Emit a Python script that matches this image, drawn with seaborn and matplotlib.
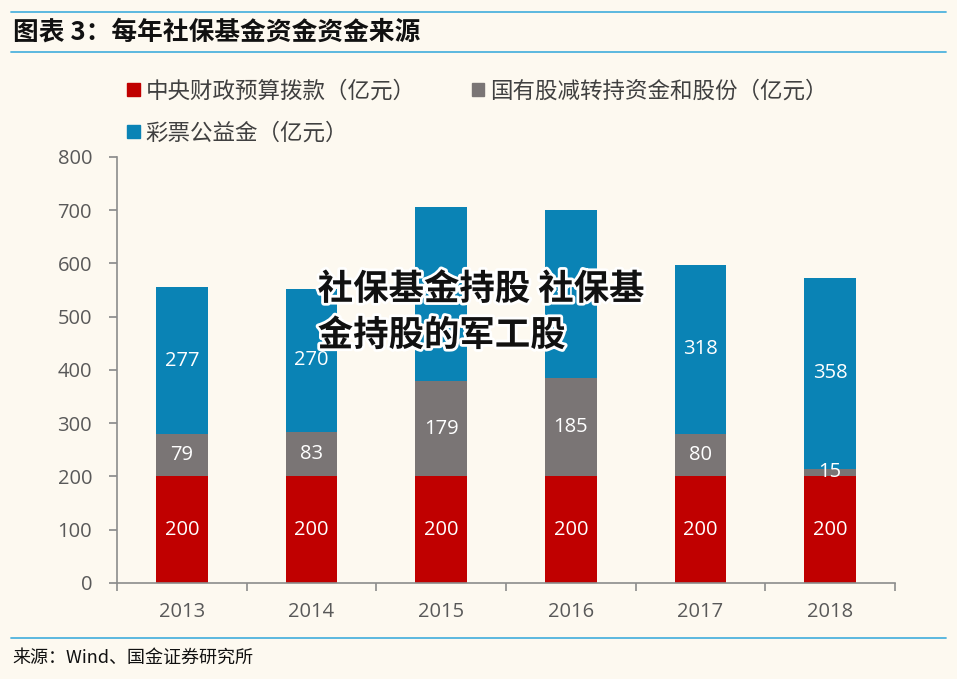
import pandas as pd
import matplotlib.pyplot as plt
import matplotlib.patheffects as pe
from matplotlib.patches import Patch
from matplotlib.lines import Line2D
import seaborn as sns

# Data
years = ['2013', '2014', '2015', '2016', '2017', '2018']
central = [200, 200, 200, 200, 200, 200]
state_shares = [79, 83, 179, 185, 80, 15]
lottery = [277, 270, 327, 315, 318, 358]

names = ['中央财政预算拨款（亿元）', '国有股减转持资金和股份（亿元）', '彩票公益金（亿元）']
colors = ['#C00000', '#7A7575', '#0A83B5']
bg = '#FDF9F0'

df = pd.DataFrame({'year': years, 'central': central,
                   'state': state_shares, 'lottery': lottery})
df['lvl2'] = df['central'] + df['state']
df['lvl3'] = df['lvl2'] + df['lottery']

sns.set_theme(style='white')
plt.rcParams['font.family'] = ['Open Sans', 'Noto Sans CJK SC', 'DejaVu Sans']

fig = plt.figure(figsize=(9.57, 6.79), dpi=100, facecolor=bg)
ax = fig.add_axes([0.1223, 0.1414, 0.8129, 0.6274], facecolor=bg)

# stacked bars: draw totals back to front
for col, c in zip(['lvl3', 'lvl2', 'central'], [colors[2], colors[1], colors[0]]):
    sns.barplot(data=df, x='year', y=col, color=c, width=0.4,
                saturation=1, ax=ax, edgecolor='none')

# data labels
for i in range(len(years)):
    parts = [(0, central[i]), (central[i], state_shares[i]),
             (central[i] + state_shares[i], lottery[i])]
    for base, v in parts:
        ax.text(i, base + v / 2, str(v), ha='center', va='center',
                color='white', fontsize=14.5, family='Open Sans')

ax.set_ylim(0, 800)
ax.set_xlim(-0.5, len(years) - 0.5)
ax.set_yticks(range(0, 801, 100))
ax.set_xlabel('')
ax.set_ylabel('')
for s in ['top', 'right']:
    ax.spines[s].set_visible(False)
for s in ['left', 'bottom']:
    ax.spines[s].set_color('#8C8C8C')
    ax.spines[s].set_linewidth(1.2)
ax.tick_params(axis='y', left=True, length=6, color='#8C8C8C',
               labelsize=14.5, labelcolor='#595959', pad=12)
ax.tick_params(axis='x', bottom=False, labelsize=14.5,
               labelcolor='#595959', pad=8)
# category boundary ticks on x axis
ax.set_xticks([i + 0.5 for i in range(-1, len(years))], minor=True)
ax.tick_params(axis='x', which='minor', bottom=True, length=6,
               color='#8C8C8C', width=1.2)

# legend
handles = [Patch(color=colors[0]), Patch(color=colors[2]), Patch(color=colors[1])]
labels = [names[0], names[2], names[1]]
fig.legend(handles, labels, ncol=2, loc='upper left',
           bbox_to_anchor=(0.112, 0.913), frameon=False,
           prop={'family': 'Noto Sans CJK SC', 'size': 16.2},
           labelcolor='#404040', handlelength=0.55, handleheight=0.55,
           handletextpad=0.25, columnspacing=2.5, labelspacing=0.85)

# header / footer
line_c = '#4FB3DE'
for y in [0.982, 0.923, 0.061]:
    fig.add_artist(Line2D([0.012, 0.988], [y, y], color=line_c, lw=1.3,
                          transform=fig.transFigure))
fig.text(0.014, 0.952, '图表 3：每年社保基金资金资金来源', fontsize=18.5,
         fontweight='bold', style='italic', va='center', color='#111111',
         family=['Noto Sans CJK SC', 'DejaVu Sans'])
fig.text(0.013, 0.031, '来源：Wind、国金证券研究所', fontsize=13,
         va='center', color='#111111',
         family=['Noto Sans CJK SC', 'DejaVu Sans'])

# watermark text
wm = fig.text(0.332, 0.54, '社保基金持股 社保基\n金持股的军工股', fontsize=25.5,
              fontweight='heavy', va='center', ha='left', color='#111111',
              linespacing=1.4, family='Noto Sans CJK SC')
wm.set_path_effects([pe.withStroke(linewidth=4, foreground='white')])

fig.savefig('out.png', dpi=100, facecolor=bg)
